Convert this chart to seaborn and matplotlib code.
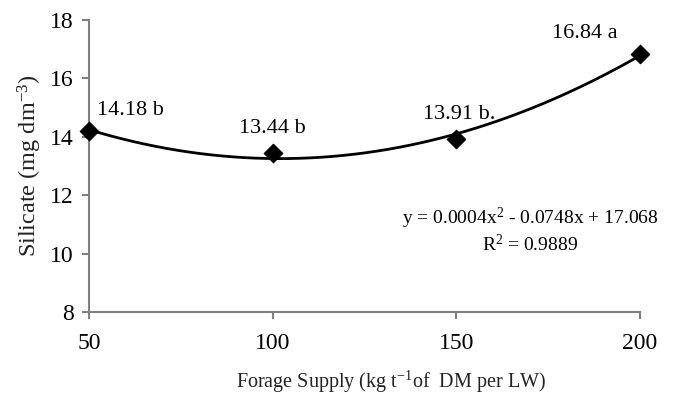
import numpy as np
import pandas as pd
import matplotlib
matplotlib.use("Agg")
import matplotlib.pyplot as plt
import seaborn as sns

# Data
forage_supply = [50, 100, 150, 200]
silicate = [14.18, 13.44, 13.91, 16.84]
letters = ["b", "b", "b.", "a"]
equation_text = "y = 0.0004x$^{2}$ - 0.0748x + 17.068"
r2_text = "R$^{2}$ = 0.9889"

sns.set_style("white")
plt.rcParams['font.family'] = ['Liberation Serif', 'DejaVu Serif']
plt.rcParams['mathtext.fontset'] = 'custom'
plt.rcParams['mathtext.rm'] = 'Liberation Serif'
plt.rcParams['mathtext.it'] = 'Liberation Serif'

df = pd.DataFrame({"supply": forage_supply, "silicate": silicate})

# Second order trend line fitted to the points
coefs = np.polyfit(df["supply"], df["silicate"], 2)
xs = np.linspace(min(forage_supply), max(forage_supply), 200)
trend = pd.DataFrame({"supply": xs, "silicate": np.polyval(coefs, xs)})

fig, ax = plt.subplots(figsize=(6.73, 3.97), dpi=100)
fig.subplots_adjust(left=0.132, right=0.951, bottom=0.214, top=0.95)

sns.lineplot(data=trend, x="supply", y="silicate", color="black", linewidth=2, ax=ax)
sns.scatterplot(data=df, x="supply", y="silicate", marker="D", s=90, color="black",
                edgecolor="black", ax=ax, clip_on=False, zorder=5)

# Value labels
offsets = [(6, 8), (0, 11), (2, 11), (-40, 8)]
for x, y, let, off in zip(forage_supply, silicate, letters, offsets):
    ha = "left" if x == forage_supply[0] else "center"
    ax.annotate(f"{y:.2f} {let}", (x, y), xytext=off, textcoords="offset points",
                ha=ha, va="bottom", fontsize=16, color="black")

# trend equation
ax.text(0.80, 0.28, equation_text + "\n" + r2_text, transform=ax.transAxes,
        ha="center", va="center", fontsize=14, linespacing=1.15, color="black")

ax.set_xlim(50, 200)
ax.set_ylim(8, 18)
ax.set_xticks([50, 100, 150, 200])
ax.set_yticks([8, 10, 12, 14, 16, 18])

for side in ["top", "right"]:
    ax.spines[side].set_visible(False)
for side in ["left", "bottom"]:
    ax.spines[side].set_color("#808080")
    ax.spines[side].set_linewidth(1.5)
ax.tick_params(axis="both", direction="out", length=5, width=1.5, color="#808080",
               labelsize=17, labelcolor="black", left=True, bottom=True)
ax.tick_params(axis="x", pad=10)
ax.tick_params(axis="y", pad=6)

ax.set_xlabel("Forage Supply (kg t$^{-1}$of  DM per LW)", fontsize=14.5, color="#222222")
ax.set_ylabel("Silicate (mg dm$^{-3}$)", fontsize=17.5, color="#222222")
ax.xaxis.set_label_coords(0.548, -0.195)
ax.yaxis.set_label_coords(-0.082, 0.5)

fig.savefig("out.png", dpi=100)
